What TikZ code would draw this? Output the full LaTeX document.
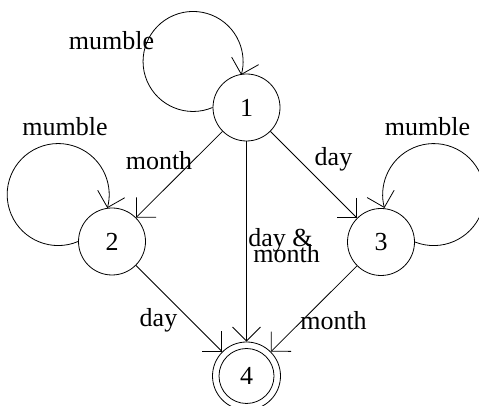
\documentclass[tikz,border=0pt]{standalone}
\usepackage{fontspec}
\setmainfont{Liberation Serif}
\usetikzlibrary{arrows.meta}
\begin{document}
\begin{tikzpicture}[x=1pt,y=1pt,line width=0.8pt,
  font=\fontsize{26}{26}\selectfont,
  state/.style={circle,draw,minimum size=67pt,inner sep=0pt},
  arr/.style={-{Straight Barb[length=14pt,width=28pt]}},
  lbl/.style={anchor=base,inner sep=0pt}]
\clip (0,0) rectangle (479,406);
\useasboundingbox (0,0) rectangle (479,406);
\node[state] (n1) at (246.5,298.5) {1};
\node[state] (n2) at (112,164.5) {2};
\node[state] (n3) at (381,164) {3};
\node[state,minimum size=68pt] (n4) at (246.5,30) {};
\node[circle,draw,minimum size=55pt,inner sep=0pt] (n4in) at (n4) {4};
% self loops
\draw[arr] (n1.west) arc[start angle=-67,end angle=-375.6,radius=50];
\draw[arr] (n2.west) arc[start angle=-67,end angle=-375.4,radius=51];
\draw[arr] (n3.east) arc[start angle=-111.6,end angle=195.2,radius=51];
% transitions
\draw[arr] (n1) -- (n2);
\draw[arr] (n1) -- (n3);
\draw[arr] (n1) -- (n4);
\draw[arr] (n2) -- (n4);
\draw[arr] (n3) -- (n4);
% labels
\node[lbl] (l1) at (111.5,356) {mumble};
\node[lbl] (l2) at (65,270) {mumble};
\node[lbl] (l3) at (427.5,270) {mumble};
\node[lbl] (l12) at (159,236) {month};
\node[lbl] (l13) at (333.5,240.5) {day};
\node[lbl,anchor=base west] (l14a) at (248,159) {day \&};
\node[lbl,anchor=base west] (l14b) at (253,143) {month};
\node[lbl] (l24) at (158.5,79) {day};
\node[lbl] (l34) at (333.5,76) {month};
\end{tikzpicture}
\end{document}
